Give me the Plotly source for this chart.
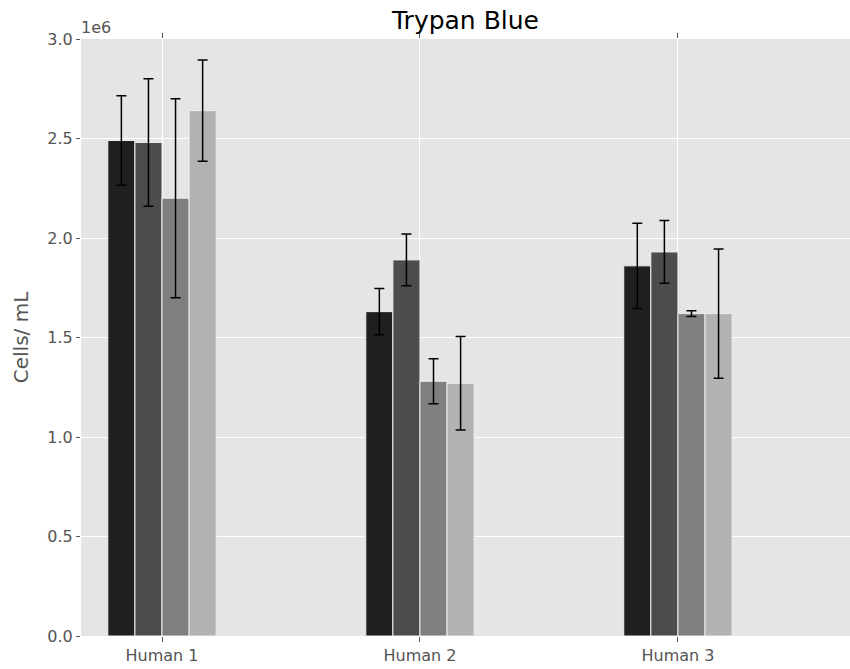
import plotly.graph_objects as go

# Cell counts (cells/mL) per donor, four conditions each
categories = ["Human 1", "Human 2", "Human 3"]
series_means = [
    [2.49e6, 1.63e6, 1.86e6],
    [2.48e6, 1.89e6, 1.93e6],
    [2.20e6, 1.28e6, 1.62e6],
    [2.64e6, 1.27e6, 1.62e6],
]
series_errors = [
    [0.225e6, 0.116e6, 0.214e6],
    [0.320e6, 0.130e6, 0.158e6],
    [0.500e6, 0.113e6, 0.015e6],
    [0.254e6, 0.235e6, 0.325e6],
]
bar_colors = ["#1f1f1f", "#4c4c4c", "#7f7f7f", "#b2b2b2"]
y_ticks = [0, 0.5e6, 1.0e6, 1.5e6, 2.0e6, 2.5e6, 3.0e6]
y_tick_labels = ["0.0", "0.5", "1.0", "1.5", "2.0", "2.5", "3.0"]

x_pos = list(range(len(categories)))

fig = go.Figure()
for means, errs, color in zip(series_means, series_errors, bar_colors):
    fig.add_trace(go.Bar(
        x=x_pos,
        y=means,
        marker=dict(color=color, line=dict(color="#eeeeee", width=1)),
        error_y=dict(type="data", array=errs, visible=True,
                     color="black", thickness=1.5, width=5),
        showlegend=False,
    ))

tick_font = dict(family="DejaVu Sans", size=16, color="#555555")

fig.update_layout(
    width=850, height=669,
    margin=dict(l=81, r=0, t=39, b=33),
    paper_bgcolor="white",
    plot_bgcolor="#e5e5e5",
    barmode="group",
    bargap=0.58,
    bargroupgap=0,
    title=dict(text="Trypan Blue", x=(81 + 850) / 2 / 850, xanchor="center",
               y=0.970, yanchor="middle",
               font=dict(family="DejaVu Sans", size=25, color="black")),
    xaxis=dict(
        range=[-0.314, 2.667],
        tickvals=x_pos, ticktext=categories,
        showgrid=True, gridcolor="white", gridwidth=1,
        zeroline=False, showline=False,
        ticks="outside", ticklen=5, tickcolor="#555555", tickwidth=1,
        mirror="ticks",
        tickfont=tick_font,
    ),
    yaxis=dict(
        range=[0, 3.0e6],
        tickvals=y_ticks, ticktext=y_tick_labels,
        showgrid=True, gridcolor="white", gridwidth=1,
        zeroline=False, showline=False,
        ticks="outside", ticklen=4, tickcolor="#555555", tickwidth=1,
        tickfont=tick_font,
        title=dict(text="Cells/ mL", standoff=13,
                   font=dict(family="DejaVu Sans", size=20, color="#555555")),
    ),
    annotations=[dict(
        text="1e6", xref="paper", yref="paper", x=0, y=1,
        xanchor="left", yanchor="bottom", showarrow=False,
        font=tick_font, yshift=0, xshift=-2,
    )],
)

fig.write_html("out.html")
